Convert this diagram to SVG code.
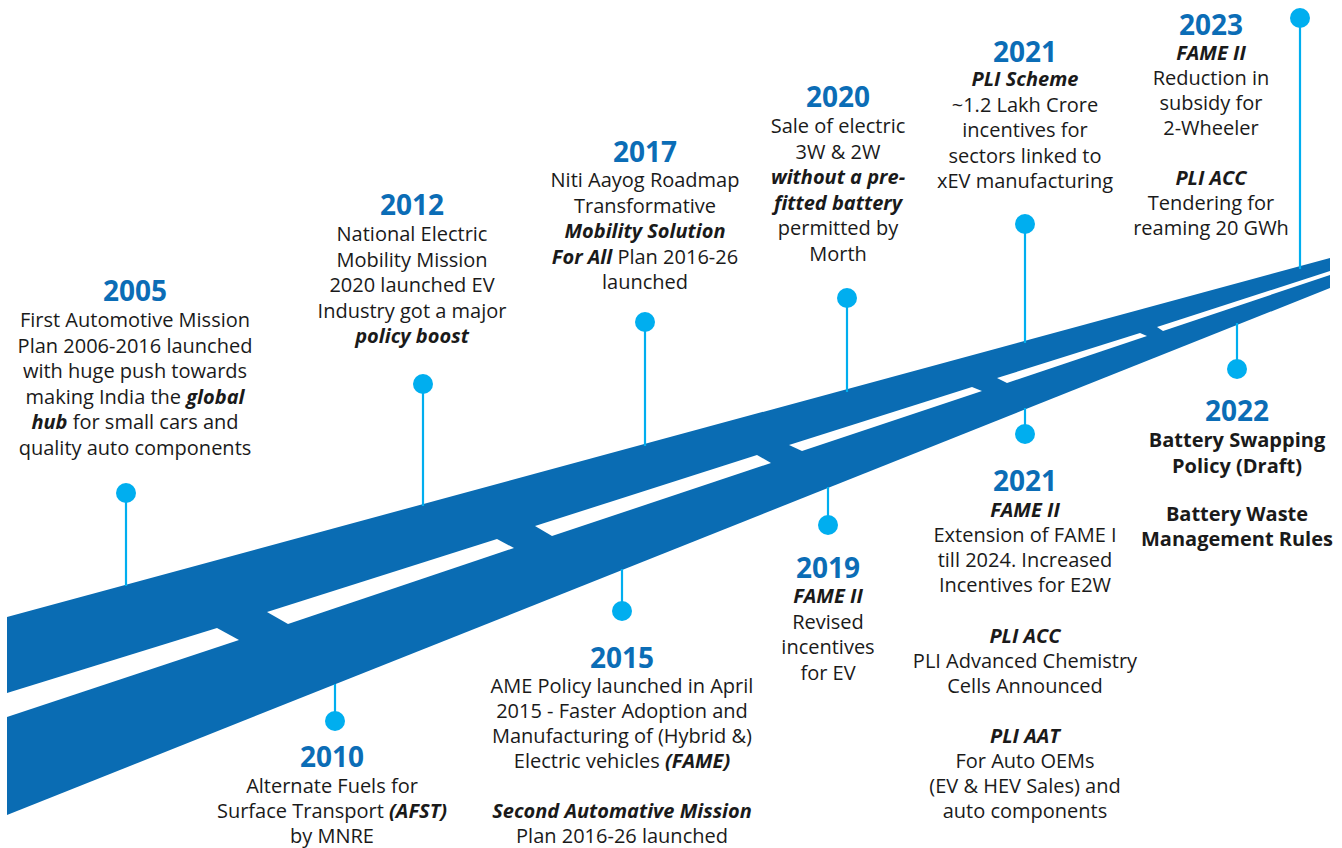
<svg xmlns="http://www.w3.org/2000/svg" width="1342" height="848" viewBox="0 0 1342 848">
<style>
.yr{font-family:"Open Sans","Noto Sans",sans-serif;font-size:28px;font-weight:700;fill:#0B6DB6;text-anchor:middle}
.t{font-family:"Open Sans","Noto Sans",sans-serif;font-size:20px;fill:#1A1A1A;text-anchor:middle}
.bi{font-style:italic;font-weight:700}
.b{font-weight:700}
.stem{stroke:#00AEEF;stroke-width:2.2;fill:none}
.dot{fill:#00AEEF}
.road{fill:#0A6CB3}
.dash{fill:#FFFFFF}
</style>
<rect width="1342" height="848" fill="#FFFFFF"/>
<g id="road">
<polygon class="road" points="7,617 1330,258 1330,288 7,815"/>
<polygon class="dash" points="7,693 217,628 239,640 7,717"/>
<polygon class="dash" points="267,612 497,539 514,548 288,624"/>
<polygon class="dash" points="535,526 757,455 771,463 552,536"/>
<polygon class="dash" points="789,445 972,387 982,391 802,451"/>
<polygon class="dash" points="997,378 1140,333 1147,336 1007,383"/>
<polygon class="dash" points="1157,327 1330,271 1330,275 1163,331"/>
</g>
<g id="connectors">
<line class="stem" x1="126" y1="493" x2="126" y2="586"/>
<line class="stem" x1="335" y1="684" x2="335" y2="721"/>
<line class="stem" x1="423" y1="384" x2="423" y2="506"/>
<line class="stem" x1="622" y1="569" x2="622" y2="611"/>
<line class="stem" x1="645" y1="322" x2="645" y2="446"/>
<line class="stem" x1="828" y1="487" x2="828" y2="525"/>
<line class="stem" x1="847" y1="298" x2="847" y2="392"/>
<line class="stem" x1="1025" y1="224" x2="1025" y2="343"/>
<line class="stem" x1="1025" y1="408" x2="1025" y2="434"/>
<line class="stem" x1="1237" y1="323" x2="1237" y2="369"/>
<line class="stem" x1="1300" y1="18" x2="1300" y2="269"/>
</g>
<g id="node-2005">
<circle class="dot" cx="126" cy="493" r="10"/>
<text class="yr" x="135" y="301">2005</text>
<text class="t" x="135" y="327">First Automotive Mission</text>
<text class="t" x="135" y="352.5">Plan 2006-2016 launched</text>
<text class="t" x="135" y="378">with huge push towards</text>
<text class="t" x="135" y="403.5">making India the <tspan class="bi">global</tspan></text>
<text class="t" x="135" y="429"><tspan class="bi">hub</tspan> for small cars and</text>
<text class="t" x="135" y="454.5">quality auto components</text>
</g>
<g id="node-2010">
<circle class="dot" cx="335" cy="721" r="10"/>
<text class="yr" x="332" y="767">2010</text>
<text class="t" x="332" y="793">Alternate Fuels for</text>
<text class="t" x="332" y="818">Surface Transport <tspan class="bi">(AFST)</tspan></text>
<text class="t" x="332" y="843">by MNRE</text>
</g>
<g id="node-2012">
<circle class="dot" cx="423" cy="384" r="10"/>
<text class="yr" x="412" y="215">2012</text>
<text class="t" x="412" y="241">National Electric</text>
<text class="t" x="412" y="266.5">Mobility Mission</text>
<text class="t" x="412" y="292">2020 launched EV</text>
<text class="t" x="412" y="317.5">Industry got a major</text>
<text class="t" x="412" y="343"><tspan class="bi">policy boost</tspan></text>
</g>
<g id="node-2015">
<circle class="dot" cx="622" cy="611" r="10"/>
<text class="yr" x="622" y="668">2015</text>
<text class="t" x="622" y="693">AME Policy launched in April</text>
<text class="t" x="622" y="718">2015 - Faster Adoption and</text>
<text class="t" x="622" y="743">Manufacturing of (Hybrid &amp;)</text>
<text class="t" x="622" y="768">Electric vehicles <tspan class="bi">(FAME)</tspan></text>
<text class="t" x="622" y="818"><tspan class="bi">Second Automative Mission</tspan></text>
<text class="t" x="622" y="843">Plan 2016-26 launched</text>
</g>
<g id="node-2017">
<circle class="dot" cx="645" cy="322" r="10"/>
<text class="yr" x="645" y="162">2017</text>
<text class="t" x="645" y="187">Niti Aayog Roadmap</text>
<text class="t" x="645" y="212.5">Transformative</text>
<text class="t" x="645" y="238"><tspan class="bi">Mobility Solution</tspan></text>
<text class="t" x="645" y="263.5"><tspan class="bi">For All</tspan> Plan 2016-26</text>
<text class="t" x="645" y="289">launched</text>
</g>
<g id="node-2019">
<circle class="dot" cx="828" cy="525" r="10"/>
<text class="yr" x="828" y="578">2019</text>
<text class="t" x="828" y="603"><tspan class="bi">FAME II</tspan></text>
<text class="t" x="828" y="629">Revised</text>
<text class="t" x="828" y="654">incentives</text>
<text class="t" x="828" y="680">for EV</text>
</g>
<g id="node-2020">
<circle class="dot" cx="847" cy="298" r="10"/>
<text class="yr" x="838" y="107">2020</text>
<text class="t" x="838" y="133">Sale of electric</text>
<text class="t" x="838" y="158.5">3W &amp; 2W</text>
<text class="t" x="838" y="184"><tspan class="bi">without a pre-</tspan></text>
<text class="t" x="838" y="209.5"><tspan class="bi">fitted battery</tspan></text>
<text class="t" x="838" y="235">permitted by</text>
<text class="t" x="838" y="260.5">Morth</text>
</g>
<g id="node-2021-pli">
<circle class="dot" cx="1025" cy="224" r="10"/>
<text class="yr" x="1025" y="62">2021</text>
<text class="t" x="1025" y="86"><tspan class="bi">PLI Scheme</tspan></text>
<text class="t" x="1025" y="111.5">~1.2 Lakh Crore</text>
<text class="t" x="1025" y="137">incentives for</text>
<text class="t" x="1025" y="162.5">sectors linked to</text>
<text class="t" x="1025" y="188">xEV manufacturing</text>
</g>
<g id="node-2021-fame">
<circle class="dot" cx="1025" cy="434" r="10"/>
<text class="yr" x="1025" y="491">2021</text>
<text class="t" x="1025" y="517"><tspan class="bi">FAME II</tspan></text>
<text class="t" x="1025" y="542">Extension of FAME I</text>
<text class="t" x="1025" y="567">till 2024. Increased</text>
<text class="t" x="1025" y="592">Incentives for E2W</text>
<text class="t" x="1025" y="642.5"><tspan class="bi">PLI ACC</tspan></text>
<text class="t" x="1025" y="667.5">PLI Advanced Chemistry</text>
<text class="t" x="1025" y="692.5">Cells Announced</text>
<text class="t" x="1025" y="742.5"><tspan class="bi">PLI AAT</tspan></text>
<text class="t" x="1025" y="767.5">For Auto OEMs</text>
<text class="t" x="1025" y="793">(EV &amp; HEV Sales) and</text>
<text class="t" x="1025" y="818">auto components</text>
</g>
<g id="node-2022">
<circle class="dot" cx="1237" cy="369" r="10"/>
<text class="yr" x="1237" y="421">2022</text>
<text class="t" x="1237" y="447"><tspan class="b">Battery Swapping</tspan></text>
<text class="t" x="1237" y="472.5"><tspan class="b">Policy (Draft)</tspan></text>
<text class="t" x="1237" y="521"><tspan class="b">Battery Waste</tspan></text>
<text class="t" x="1237" y="546"><tspan class="b">Management Rules</tspan></text>
</g>
<g id="node-2023">
<circle class="dot" cx="1300" cy="18" r="10"/>
<text class="yr" x="1211" y="35">2023</text>
<text class="t" x="1211" y="60"><tspan class="bi">FAME II</tspan></text>
<text class="t" x="1211" y="85">Reduction in</text>
<text class="t" x="1211" y="110">subsidy for</text>
<text class="t" x="1211" y="135">2-Wheeler</text>
<text class="t" x="1211" y="185"><tspan class="bi">PLI ACC</tspan></text>
<text class="t" x="1211" y="210">Tendering for</text>
<text class="t" x="1211" y="235">reaming 20 GWh</text>
</g>
</svg>
